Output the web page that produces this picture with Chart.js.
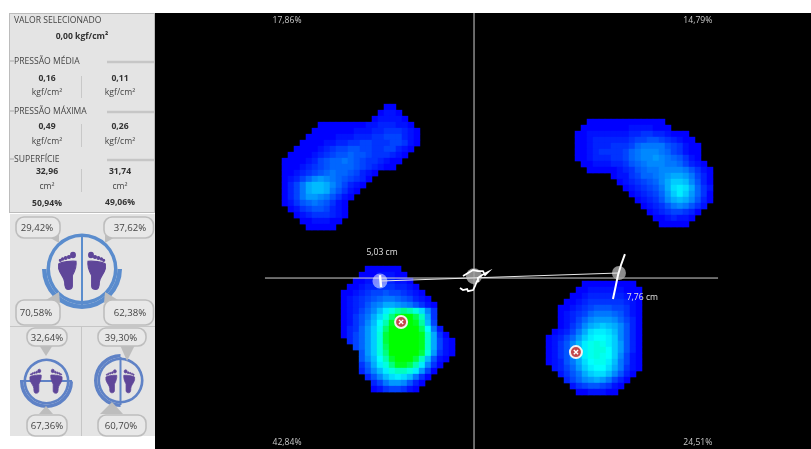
<!DOCTYPE html>
<html>
<head>
<meta charset="utf-8">
<script src="https://cdn.jsdelivr.net/npm/chart.js@4"></script>
<style>
html, body { margin: 0; padding: 0; background: #fff; overflow: hidden; }
#mapa { position: absolute; left: 0; top: 0; display: block; }
#painel { position: absolute; left: 0; top: 0; }
.anel { position: absolute; display: block; }
text { font-family: "Open Sans", sans-serif; font-size: 8.6px; fill: #444; }
text.b { font-weight: 700; fill: #333; }
text.p { font-size: 9.6px; fill: #444; }
</style>
</head>
<body>
<canvas id="mapa" width="811" height="449"></canvas>
<canvas id="anelPrincipal" class="anel" width="80" height="80" style="left:42px;top:229px;width:80px;height:80px"></canvas>
<canvas id="anelFrente" class="anel" width="53" height="53" style="left:19.5px;top:354.5px;width:53px;height:53px"></canvas>
<canvas id="anelLado" class="anel" width="53" height="53" style="left:94px;top:354px;width:53px;height:53px"></canvas>
<svg id="painel" width="155" height="449" viewBox="0 0 155 449"></svg>

<script>
// pressure cells per foot, top row first; '.' is empty, 0-f blue to cyan, g-v cyan to green
const heatTopLeft = [
  '.................00',
  '................0110',
  '...............011110',
  '......0000000011222110',
  '.....000000011122333210',
  '....0000011122233444210',
  '...00001122334433344310',
  '..00001234455443344210',
  '.00001234556554333210',
  '00001245667654332100',
  '0001234566665432100',
  '0012345676654210',
  '012468987654320',
  '0247abba864210',
  '0247abba75310',
  '024799875310',
  '01356765310',
  '.0134554210',
  '..012333210',
  '...0011100',
  '....00000'
];
const heatTopRight = [
  '..0000000000000',
  '.000000001111000',
  '0011111112233221000',
  '00122222234455432100',
  '001222333467777543100',
  '001233334678887643100',
  '001222334678898765310',
  '.001112235678887764210',
  '..000001235677888875310',
  '......0113466789aa97420',
  '.......01234568accb8520',
  '........0123457adeda631',
  '.........0123469cec9630',
  '..........012358aba8520',
  '...........01235787531',
  '............012344320',
  '.............0012110',
  '..............00000'
];
const heatBottomLeft = [
  '....000000',
  '...00011100',
  '..0011222110',
  '.001223332210',
  '00123445443210',
  '012345677654210',
  '0123578aa9875310',
  '012468behkmkhd83',
  '01357adhntvvqja3',
  '01358bfktvvvtlb4',
  '02369cgovvvvvpf71',
  '02469chrvvvvvtia30',
  '.2469chrvvvvvtia410',
  '..469chpvvvvvtia410',
  '...59chnvvvvvrh9310',
  '...58bfksvvvrjb510',
  '...36aehnttqke830',
  '...258behjjhe940',
  '....258bdedb730',
  '.....247998520',
  '.....01344310'
];
const heatBottomRight = [
  '......000000000',
  '.....00111111000',
  '....001222222100',
  '...0012333333210',
  '..00123455544310',
  '..01234677765310',
  '..01246899986420',
  '..01358abcba8520',
  '.01247adeedb8520',
  '012469ceffec8520',
  '01358beghgec9520',
  '01358beghhfc9520',
  '01358beghgfc8410',
  '01257adfggeb7410',
  '.12469ceffda7310',
  '..1357acddb8520',
  '...24689a97420',
  '....134554310',
  '.....0011100'
];

// centre of pressure traces, in cm from the crosshair
const traceCentroX = [-0.75, -0.59, -0.37, -0.32, -0.05, 0.05, 0.16, 0.21, 0.43, 0.75, 0.59, 0.48, 0.21, -0.05, -0.32, -0.59];
const traceCentroY = [-0.53, -0.64, -0.59, -0.70, -0.64, -0.43, -0.16, 0, 0.16, 0.32, 0.16, 0.37, 0.37, 0.43, 0.27, 0.11];
const traceDireitaX = [8.07, 7.86, 7.70, 7.59, 7.43];
const traceDireitaY = [1.28, 0.70, 0.16, -0.37, -1.12];
const traceEsquerdaX = [-5.03, -4.97];
const traceEsquerdaY = [0.16, -0.48];

// barycentres and maximum pressure points, cm
const baricentroX = [-5.03, 0, 7.75];
const baricentroY = [-0.16, 0.1, 0.27];
const maximoX = [-3.90, 5.45];
const maximoY = [-2.35, -3.96];

const quadrantes = ['17,86%', '14,79%', '42,84%', '24,51%'];
const distancias = ['5,03 cm', '7,76 cm'];

const pressaoMedia = ['0,16', '0,11'];
const pressaoMaxima = ['0,49', '0,26'];
const superficie = ['32,96', '31,74'];
const superficiePct = ['50,94%', '49,06%'];
const apoioPrincipal = ['29,42%', '37,62%', '70,58%', '62,38%'];
const apoioFrente = ['32,64%', '67,36%'];
const apoioLado = ['39,30%', '60,70%'];

const PX_CM = 18.7;
const CELL = 6 / PX_CM;

function corNivel(n) {
  if (n <= 15) return 'rgb(0,' + (n * 17) + ',255)';
  return 'rgb(0,255,' + Math.max(0, 255 - (n - 15) * 16) + ')';
}

function pes(rows, ox, oy) {
  const data = [], cores = [];
  rows.forEach((row, r) => {
    [...row].forEach((ch, i) => {
      if (ch === '.') return;
      data.push({ x: ox + (i + 0.5) * CELL, y: oy - (r + 0.5) * CELL });
      cores.push(corNivel(parseInt(ch, 36)));
    });
  });
  return {
    data: data, pointStyle: 'rect', pointRadius: 4.6, pointBorderWidth: 0,
    pointBackgroundColor: cores, showLine: false, order: 9
  };
}

const zip = (xs, ys) => xs.map((x, i) => ({ x: x, y: ys[i] }));

function linha(xs, ys, cor, w, order) {
  return { data: zip(xs, ys), showLine: true, borderColor: cor, borderWidth: w, pointRadius: 0, tension: 0, order: order };
}

// fundo preto e textos do mapa
const mapaPlugin = {
  id: 'mapaPlugin',
  beforeDatasetsDraw(chart) {
    const a = chart.chartArea, ctx = chart.ctx;
    ctx.save();
    ctx.fillStyle = '#000';
    ctx.fillRect(a.left, a.top, a.right - a.left, a.bottom - a.top);
    ctx.restore();
  },
  afterDatasetsDraw(chart) {
    const ctx = chart.ctx, sx = chart.scales.x, sy = chart.scales.y;
    const put = (t, x, y) => ctx.fillText(t, sx.getPixelForValue(x), sy.getPixelForValue(y));
    ctx.save();
    ctx.font = '8.6px "Open Sans", sans-serif';
    ctx.fillStyle = '#c8c8c8';
    ctx.textAlign = 'center';
    ctx.textBaseline = 'middle';
    put(quadrantes[0], -10, 13.75);
    put(quadrantes[1], 11.97, 13.75);
    put(quadrantes[2], -10, -8.78);
    put(quadrantes[3], 11.97, -8.78);
    ctx.fillStyle = '#e0e0e0';
    put(distancias[0], -4.92, 1.38);
    put(distancias[1], 9.0, -1.02);
    ctx.restore();
  }
};

new Chart(document.getElementById('mapa'), {
  type: 'scatter',
  plugins: [mapaPlugin],
  data: {
    datasets: [
      pes(heatTopLeft, -10.27, 9.30),
      pes(heatTopRight, 5.40, 8.50),
      pes(heatBottomLeft, -7.11, 0.64),
      pes(heatBottomRight, 3.85, -0.16),
      linha([-11.18, 13.05], [0, 0], '#d0d0d0', 1, 7),
      linha([0, 0], [-9.14, 14.17], '#d0d0d0', 1, 7),
      {
        data: zip(baricentroX, baricentroY), showLine: false, order: 6, pointStyle: 'circle',
        pointRadius: [7.5, 8, 7], pointBorderWidth: 0,
        pointBackgroundColor: ['rgba(255,255,255,0.5)', 'rgba(165,165,165,0.85)', 'rgba(165,165,165,0.85)']
      },
      linha([baricentroX[0], baricentroX[2]], [baricentroY[0], baricentroY[2]], '#e8e8e8', 1, 5),
      linha(traceCentroX, traceCentroY, '#fff', 1.8, 4),
      linha(traceDireitaX, traceDireitaY, '#fff', 2, 4),
      linha(traceEsquerdaX, traceEsquerdaY, '#fff', 2.4, 4),
      {
        data: zip(maximoX, maximoY), showLine: false, order: 3, pointStyle: 'circle',
        pointRadius: 6, pointBorderWidth: 2, pointBorderColor: '#f4f0f0', pointBackgroundColor: '#c4484c'
      },
      {
        data: zip(maximoX, maximoY), showLine: false, order: 2, pointStyle: 'crossRot',
        pointRadius: 3, pointBorderWidth: 1.4, pointBorderColor: '#fff'
      }
    ]
  },
  options: {
    responsive: false,
    animation: false,
    events: [],
    layout: { autoPadding: false, padding: { left: 155, top: 13, right: 0, bottom: 0 } },
    plugins: { legend: { display: false }, tooltip: { enabled: false } },
    scales: {
      x: { type: 'linear', display: false, min: -17.06, max: 18.02 },
      y: { type: 'linear', display: false, min: -9.14, max: 14.17 }
    }
  }
});

// aneis dos grupos: meio anel grosso sobre o anel fino
function anel(id, rotacao, cutout, pesoGrosso, pesoFino, cor) {
  new Chart(document.getElementById(id), {
    type: 'doughnut',
    data: {
      datasets: [
        { data: [1, 1], backgroundColor: [cor, 'rgba(0,0,0,0)'], borderWidth: 0, weight: pesoGrosso },
        { data: [1], backgroundColor: [cor], borderWidth: 0, weight: pesoFino }
      ]
    },
    options: {
      responsive: false, animation: false, events: [], rotation: rotacao, cutout: cutout,
      layout: { autoPadding: false, padding: 0 },
      plugins: { legend: { display: false }, tooltip: { enabled: false } }
    }
  });
}
anel('anelPrincipal', 90, '80%', 4.5, 3.5, '#5a8ccd');
anel('anelFrente', 90, '77%', 3.4, 2.6, '#5f82c6');
anel('anelLado', 180, '77%', 3.4, 2.6, '#5f82c6');

// painel lateral
const NS = 'http://www.w3.org/2000/svg';
const svg = document.getElementById('painel');
function el(tag, attrs, txt) {
  const e = document.createElementNS(NS, tag);
  for (const k in attrs) e.setAttribute(k, attrs[k]);
  if (txt) e.textContent = txt;
  svg.appendChild(e);
  return e;
}
const texto = (x, y, t, cls, anchor) => el('text', { x: x, y: y, 'class': cls || '', 'text-anchor': anchor || 'middle' }, t);
const risco = (x1, y1, x2, y2, cor, w) => el('line', { x1: x1, y1: y1, x2: x2, y2: y2, stroke: cor, 'stroke-width': w });

// fundo atras dos aneis
const fundo = document.createElement('div');
fundo.style.cssText = 'position:absolute;left:10px;top:214px;width:145px;height:222px;background:#e4e4e4;z-index:-1';
document.body.appendChild(fundo);

el('rect', { x: 9.5, y: 13.5, width: 145, height: 199, fill: '#e4e4e4', stroke: '#bcbcbc', 'stroke-width': 1 });
texto(14, 23, 'VALOR SELECIONADO', '', 'start');
texto(82, 39, '0,00 kgf/cm²', 'b');

function secao(titulo, yTit, yVal, yUn, un, vals) {
  risco(10, yTit - 3, 14, yTit - 3, '#bcbcbc', 1.5);
  risco(107, yTit - 2, 154, yTit - 2, '#c6c6c6', 2.5);
  texto(14, yTit, titulo, '', 'start');
  texto(47, yVal, vals[0], 'b');
  texto(120, yVal, vals[1], 'b');
  texto(47, yUn, un);
  texto(120, yUn, un);
  risco(81.5, yVal - 5, 81.5, yUn + 3, '#c8c8c8', 1);
}
secao('PRESSÃO MÉDIA', 64, 81, 95, 'kgf/cm²', pressaoMedia);
secao('PRESSÃO MÁXIMA', 114, 129, 144, 'kgf/cm²', pressaoMaxima);
secao('SUPERFÍCIE', 162, 174, 189, 'cm²', superficie);
texto(47, 206, superficiePct[0], 'b');
texto(120, 205, superficiePct[1], 'b');

// separadores da parte de baixo
risco(10, 326.5, 155, 326.5, '#c6c6c6', 1);
risco(81.5, 327, 81.5, 436, '#c6c6c6', 1);

const CINZA = '#bdbdbd';
function balao(x, y, w, h, t, tx, ty) {
  el('rect', { x: x, y: y, width: w, height: h, rx: 8, ry: 8, fill: '#e8e8e8', stroke: CINZA, 'stroke-width': 1.6 });
  texto(tx, ty, t, 'p');
}
function ponta(pts) { el('polygon', { points: pts, fill: CINZA }); }

ponta('47,236 59,232 59,243');
ponta('117,236 105,232 105,243');
ponta('46,300 60,303 59,292');
ponta('118,300 104,303 105,292');
ponta('39,345 53,345 46,356');
ponta('39,414 53,414 46,406');
ponta('120,345 135,345 127,361');
ponta('100,414 123,414 112,402');

balao(16, 217, 44, 21, apoioPrincipal[0], 37, 231);
balao(104, 217, 49.5, 21, apoioPrincipal[1], 130, 231);
balao(16, 300, 44, 25, apoioPrincipal[2], 36, 316);
balao(104, 300, 49.5, 25, apoioPrincipal[3], 130, 316);
balao(27, 328, 40, 18, apoioFrente[0], 47, 341);
balao(98, 328, 48, 18, apoioLado[0], 121, 341);
balao(27, 415, 40, 21, apoioFrente[1], 47, 429);
balao(98, 415, 48, 21, apoioLado[1], 121, 429);

risco(82, 234, 82, 305, '#5a8ccd', 2);
risco(20, 381, 72, 381, '#5f82c6', 2);
risco(120.5, 357, 120.5, 405, '#5f82c6', 2);

// pe esquerdo; o direito e o mesmo espelhado
function pe(x, y, larg, espelho) {
  const s = larg / 60;
  const tr = espelho
    ? 'translate(' + (x + larg) + ',' + y + ') scale(' + (-s) + ',' + s + ')'
    : 'translate(' + x + ',' + y + ') scale(' + s + ')';
  const g = el('g', { transform: tr, fill: '#5f4699', stroke: '#5f4699', 'stroke-width': 3.5 });
  const add = (tag, attrs) => {
    const e = document.createElementNS(NS, tag);
    for (const k in attrs) e.setAttribute(k, attrs[k]);
    g.appendChild(e);
  };
  add('path', { d: 'M2,36 C10,30 40,26 54,28 C56,40 50,58 43,70 L43,102 C43,110 35,112 30,112 C22,112 20,104 20,90 C19,76 6,66 2,50 Z' });
  add('ellipse', { cx: 45, cy: 9, rx: 7, ry: 8 });
  add('circle', { cx: 33, cy: 15, r: 4.5 });
  add('circle', { cx: 23, cy: 18, r: 4 });
  add('circle', { cx: 14, cy: 21, r: 3.5 });
  add('circle', { cx: 7, cy: 25, r: 3 });
}
pe(58, 252, 20, false);
pe(86, 252, 20, true);
pe(29.5, 369, 13, false);
pe(49.5, 369, 13, true);
pe(105.5, 369.5, 12.5, false);
pe(122.5, 369.5, 12.5, true);
</script>
</body>
</html>
